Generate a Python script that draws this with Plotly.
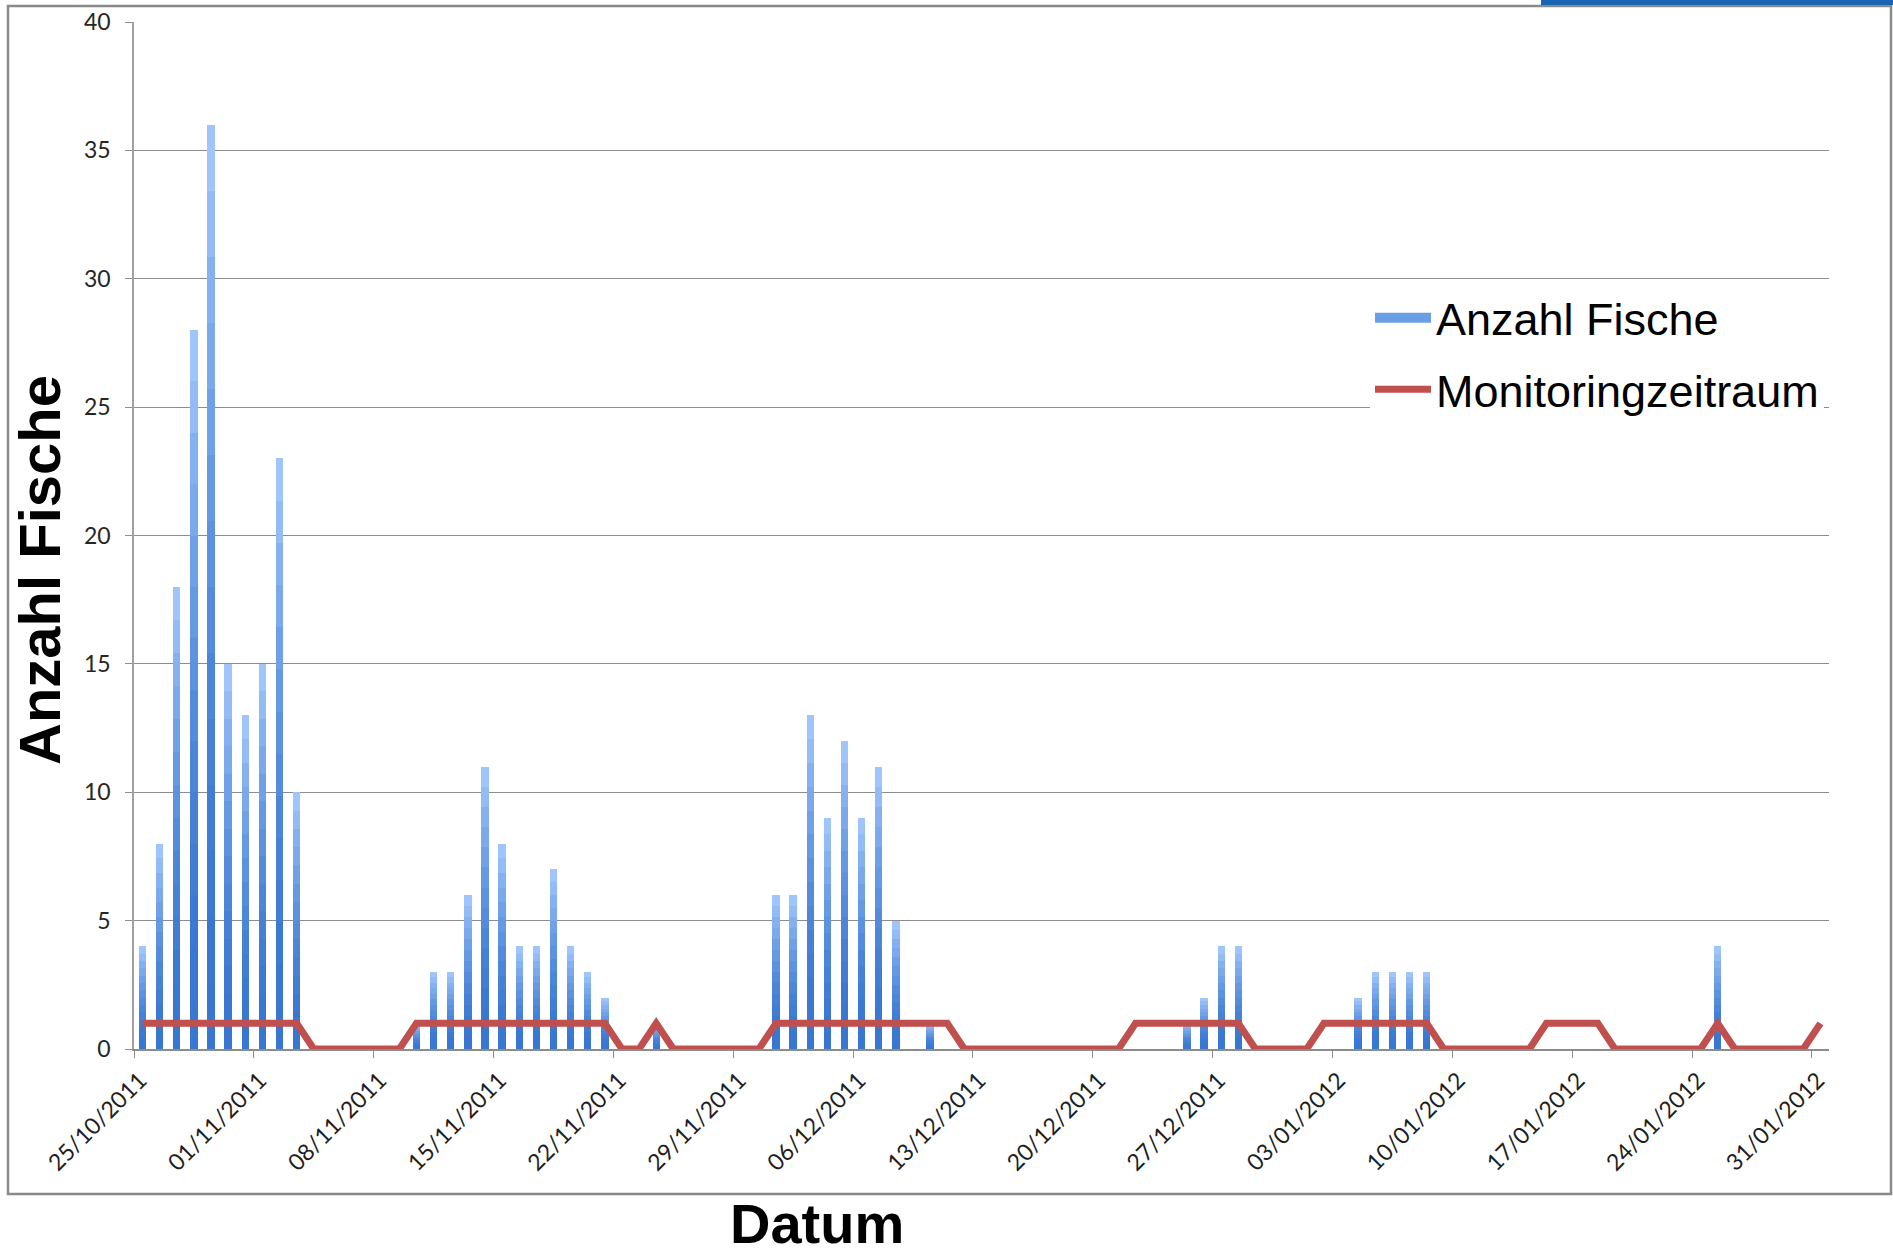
import plotly.graph_objects as go
import pandas as pd

# ---------------- data ----------------
start_date = "2011-10-25"
end_date = "2012-01-31"

anzahl_fische = [
    4, 8, 18, 28, 36, 15, 13, 15, 23, 10,
    0, 0, 0, 0, 0, 0, 1, 3, 3, 6,
    11, 8, 4, 4, 7, 4, 3, 2, 0, 0,
    1, 0, 0, 0, 0, 0, 0, 6, 6, 13,
    9, 12, 9, 11, 5, 0, 1, 0, 0, 0,
    0, 0, 0, 0, 0, 0, 0, 0, 0, 0,
    0, 1, 2, 4, 4, 0, 0, 0, 0, 0,
    0, 2, 3, 3, 3, 3, 0, 0, 0, 0,
    0, 0, 0, 0, 0, 0, 0, 0, 0, 0,
    0, 0, 4, 0, 0, 0, 0, 0, 0,
]

monitoringzeitraum = [
    1, 1, 1, 1, 1, 1, 1, 1, 1, 1,
    0, 0, 0, 0, 0, 0, 1, 1, 1, 1,
    1, 1, 1, 1, 1, 1, 1, 1, 0, 0,
    1, 0, 0, 0, 0, 0, 0, 1, 1, 1,
    1, 1, 1, 1, 1, 1, 1, 1, 0, 0,
    0, 0, 0, 0, 0, 0, 0, 0, 1, 1,
    1, 1, 1, 1, 1, 0, 0, 0, 0, 1,
    1, 1, 1, 1, 1, 1, 0, 0, 0, 0,
    0, 0, 1, 1, 1, 1, 0, 0, 0, 0,
    0, 0, 1, 0, 0, 0, 0, 0, 1,
]

tick_dates = ["2011-10-25", "2011-11-01", "2011-11-08", "2011-11-15", "2011-11-22",
              "2011-11-29", "2011-12-06", "2011-12-13", "2011-12-20", "2011-12-27",
              "2012-01-03", "2012-01-10", "2012-01-17", "2012-01-24", "2012-01-31"]
tick_labels = ["25/10/2011", "01/11/2011", "08/11/2011", "15/11/2011", "22/11/2011",
               "29/11/2011", "06/12/2011", "13/12/2011", "20/12/2011", "27/12/2011",
               "03/01/2012", "10/01/2012", "17/01/2012", "24/01/2012", "31/01/2012"]

y_ticks = [0, 5, 10, 15, 20, 25, 30, 35, 40]

# ---------------- geometry / style ----------------
W, H = 1893, 1259
ML, MR, MT, MB = 134, 64, 22, 210
PW, PH = W - ML - MR, H - MT - MB


def px_x(x):
    return (x - ML) / PW


def px_y(y):
    return (H - MB - y) / PH


days = pd.date_range(start_date, end_date, freq="D")
x_centers = [(d + pd.Timedelta(hours=12)).strftime("%Y-%m-%d %H:%M") for d in days]
x_end = (pd.Timestamp(end_date) + pd.Timedelta(days=1)).strftime("%Y-%m-%d")

TITLEFONT = "Liberation Sans, Arial, sans-serif"
TICKFONT = "Lato, Carlito, Calibri, sans-serif"

bottom_rgb = (56, 118, 208)
top_rgb = (160, 197, 252)
N_STEPS = 14
bar_width_ms = 0.43 * 86400000

fig = go.Figure()
for k in range(N_STEPS):
    t = (k / (N_STEPS - 1)) ** 1.7
    c = tuple(round(b + (tp - b) * t) for b, tp in zip(bottom_rgb, top_rgb))
    fig.add_trace(go.Bar(
        x=x_centers,
        y=[v / N_STEPS for v in anzahl_fische],
        width=bar_width_ms,
        marker=dict(color=f"rgb({c[0]},{c[1]},{c[2]})", line=dict(width=0)),
        name="Anzahl Fische",
        legendgroup="fische",
        showlegend=False,
        hoverinfo="skip",
    ))

# legend entry for the bar series (wide blue swatch, as in the original)
fig.add_trace(go.Scatter(
    x=[None], y=[None], mode="lines",
    line=dict(color="#6a9fe6", width=14),
    name="Anzahl Fische", legendgroup="fische", showlegend=True,
))

fig.add_trace(go.Scatter(
    x=x_centers,
    y=monitoringzeitraum,
    mode="lines",
    line=dict(color="#C0504D", width=7),
    name="Monitoringzeitraum",
    legendgroup="monitor",
))

fig.update_layout(
    width=W, height=H,
    margin=dict(l=ML, r=MR, t=MT, b=MB, autoexpand=False),
    paper_bgcolor="white",
    plot_bgcolor="white",
    barmode="stack",
    bargap=0,
    showlegend=True,
    legend=dict(
        xref="container", yref="container",
        x=1370 / W, y=1 - 282 / H, xanchor="left", yanchor="top",
        font=dict(family=TITLEFONT, size=45, color="black"),
        bgcolor="white",
        traceorder="grouped",
        itemwidth=56,
        tracegroupgap=10,
    ),
    xaxis=dict(
        type="date",
        range=[start_date, x_end],
        tickmode="array",
        tickvals=tick_dates,
        ticktext=tick_labels,
        tickangle=-45,
        tickfont=dict(family=TICKFONT, size=23, color="#1e1e1e"),
        ticklabelshift=6,
        ticks="outside",
        ticklen=7,
        tickcolor="#8c8c8c",
        showline=True,
        linecolor="#8c8c8c",
        linewidth=1.5,
        showgrid=False,
        zeroline=False,
    ),
    yaxis=dict(
        range=[0, 40],
        tickmode="array",
        tickvals=y_ticks,
        tickfont=dict(family=TICKFONT, size=23, color="#262626"),
        ticks="outside",
        ticklen=7,
        tickcolor="#8c8c8c",
        ticklabelstandoff=10,
        showline=True,
        linecolor="#a0a0a0",
        linewidth=1.5,
        showgrid=True,
        gridcolor="#8c8c8c",
        gridwidth=1.2,
        zeroline=False,
    ),
    annotations=[
        dict(text="<b>Datum</b>", xref="paper", yref="paper",
             x=px_x(817), y=px_y(1223), xanchor="center", yanchor="middle",
             showarrow=False, font=dict(family=TITLEFONT, size=56, color="black")),
        dict(text="<b>Anzahl Fische</b>", xref="paper", yref="paper",
             x=px_x(40), y=px_y(570), xanchor="center", yanchor="middle",
             textangle=-90,
             showarrow=False, font=dict(family=TITLEFONT, size=58, color="black")),
    ],
    shapes=[
        dict(type="rect", xref="paper", yref="paper",
             x0=px_x(8), x1=px_x(1891), y0=px_y(1194), y1=px_y(6),
             line=dict(color="#8a8a8a", width=2.5), fillcolor="rgba(0,0,0,0)",
             layer="above"),
        dict(type="rect", xref="paper", yref="paper",
             x0=px_x(1541), x1=px_x(1893), y0=px_y(5), y1=px_y(0),
             line=dict(width=0), fillcolor="#1a64b4", layer="above"),
    ],
)

fig.write_html("out.html", config={"displayModeBar": False},
               post_script="document.body.style.margin='0';")
